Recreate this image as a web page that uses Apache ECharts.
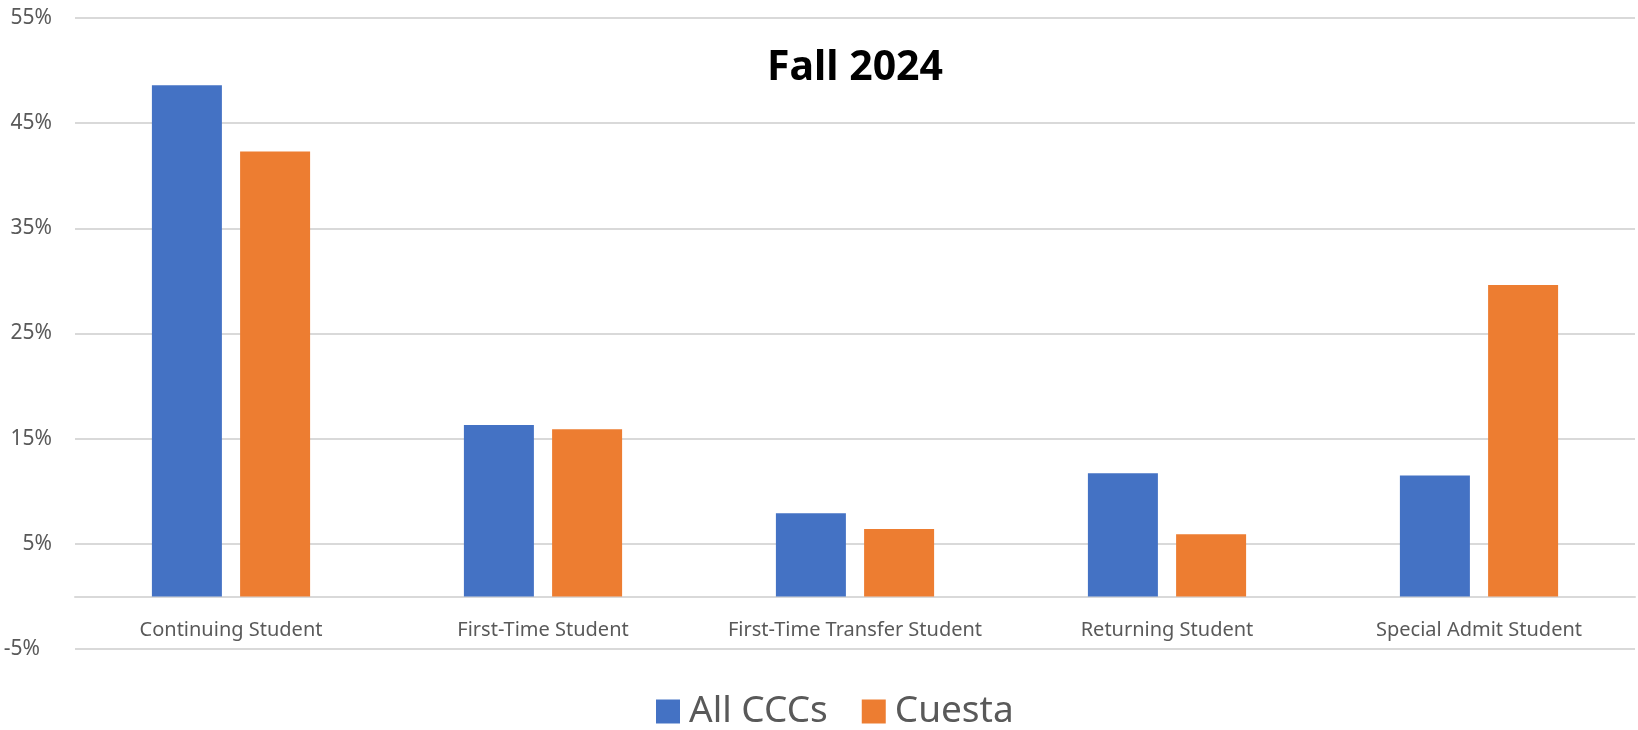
<!DOCTYPE html>
<html>
<head>
<meta charset="utf-8">
<script src="https://cdn.jsdelivr.net/npm/echarts@6/dist/echarts.min.js"></script>
<style>
  html, body { margin: 0; padding: 0; background: #fff; }
  #chart { width: 1638px; height: 730px; }
</style>
</head>
<body>
<div id="chart"></div>
<script>
// data (percent)
var categories = ['Continuing Student', 'First-Time Student', 'First-Time Transfer Student', 'Returning Student', 'Special Admit Student'];
var allCCCs = [48.6, 16.3, 7.9, 11.7, 11.5];
var cuesta = [42.3, 15.9, 6.4, 5.9, 29.6];
var seriesNames = ['All CCCs', 'Cuesta'];
var titleText = 'Fall 2024';

var myChart = echarts.init(document.getElementById('chart'));
window.onresize = myChart.resize;

var font = '"Noto Sans", sans-serif';

var option = {
  animation: false,
  backgroundColor: '#fff',
  title: {
    text: titleText,
    left: 850,
    textAlign: 'center',
    top: 43,
    textStyle: { fontFamily: font, fontSize: 41, fontWeight: 'bold', color: '#000' }
  },
  legend: {
    left: 651,
    top: 688,
    itemWidth: 24,
    itemHeight: 24,
    itemGap: 34,
    icon: 'rect',
    textStyle: { fontFamily: font, fontSize: 37, color: '#595959', padding: [0, 0, 0, 4] }
  },
  grid: { left: 75, right: 3, top: 18, bottom: 81, containLabel: false },
  xAxis: {
    type: 'category',
    data: categories,
    axisTick: { show: false },
    axisLine: { onZero: true, lineStyle: { color: '#d9d9d9', width: 2 } },
    axisLabel: { interval: 0, fontFamily: font, fontSize: 20, color: '#595959', margin: -29 }
  },
  yAxis: {
    type: 'value',
    min: -5,
    max: 55,
    interval: 5,
    axisLine: { show: false },
    axisTick: { show: false },
    splitLine: { lineStyle: { color: ['#d9d9d9', 'rgba(0,0,0,0)'], width: 2 } },
    axisLabel: {
      fontFamily: font,
      fontSize: 21,
      color: '#595959',
      margin: 23,
      formatter: function (v) {
        var r = Math.round(v);
        if (Math.abs(r) % 10 !== 5) return '';
        return r < 0 ? '{neg|' + r + '%}' : r + '%';
      },
      rich: {
        neg: { fontFamily: font, fontSize: 21, color: '#595959', padding: [0, 12, 0, 0] }
      }
    }
  },
  series: [
    {
      name: seriesNames[0],
      type: 'bar',
      data: allCCCs,
      barWidth: 70,
      barGap: '26%',
      itemStyle: { color: '#4472C4' }
    },
    {
      name: seriesNames[1],
      type: 'bar',
      data: cuesta,
      barWidth: 70,
      barGap: '26%',
      itemStyle: { color: '#ED7D31' }
    }
  ]
};
myChart.setOption(option);
</script>
</body>
</html>
